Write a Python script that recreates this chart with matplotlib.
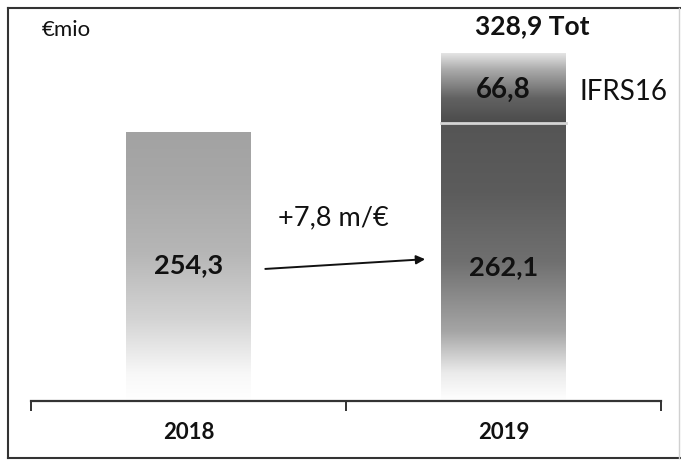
import numpy as np
import matplotlib
matplotlib.use("Agg")
import matplotlib.pyplot as plt
from matplotlib.patches import Rectangle
from matplotlib.lines import Line2D
from matplotlib.colors import LinearSegmentedColormap

# ---- data ----
years = ["2018", "2019"]
base_values = [254.3, 262.1]
ifrs16_values = [0.0, 66.8]
total_2019 = 328.9
delta_label = "+7,8 m/€"
unit_label = "€mio"
ifrs_label = "IFRS16"

plt.rcParams['font.family'] = ['Lato', 'DejaVu Sans']

fig = plt.figure(figsize=(6.81, 4.61), dpi=100)
W, H = 681, 461
ax = fig.add_axes([31 / W, (H - 401) / H, 630 / W, 392 / H])
ax.set_xlim(-0.5, 1.5)
ax.set_ylim(0, 370)
ax.set_facecolor("none")

bar_w = 0.395

def fmt(v):
    return f"{v:.1f}".replace(".", ",")

def grad_bar(x, y0, y1, stops):
    """Vertical gradient bar from y0 to y1; stops: (pos, gray), pos 0=bottom, 1=top."""
    cmap = LinearSegmentedColormap.from_list(
        "g", [(p, (g / 255, g / 255, g / 255)) for p, g in stops])
    grad = np.linspace(0, 1, 256).reshape(-1, 1)
    rect = Rectangle((x - bar_w / 2, y0), bar_w, y1 - y0, facecolor="none",
                     edgecolor="none")
    ax.add_patch(rect)
    im = ax.imshow(grad, extent=(x - bar_w / 2, x + bar_w / 2, y0, y1),
                   origin="lower", cmap=cmap, vmin=0, vmax=1,
                   aspect="auto", interpolation="bilinear", zorder=2)
    im.set_clip_path(rect)

# 2018 bar
grad_bar(0, 0, base_values[0],
         [(0, 255), (0.1, 248), (0.3, 212), (0.55, 182), (0.8, 168), (1, 162)])
# 2019 base
grad_bar(1, 0, base_values[1],
         [(0, 255), (0.1, 235), (0.25, 165), (0.5, 112), (0.75, 92), (1, 85)])
# 2019 IFRS16 segment
grad_bar(1, base_values[1], base_values[1] + ifrs16_values[1],
         [(0, 75), (0.35, 98), (0.75, 170), (1, 232)])
# divider line
ax.plot([1 - bar_w / 2, 1 + bar_w / 2], [base_values[1], base_values[1]],
        color="#d5d5d5", lw=2, zorder=3)

ax.set_xticks([0, 1])
ax.set_xticklabels(years, fontsize=16, fontweight="bold", color="#111111")
ax.set_xticks([-0.5, 0.5, 1.5], minor=True)
ax.tick_params(axis="x", which="major", length=0, pad=15)
ax.tick_params(axis="x", which="minor", length=7, width=1.3, direction="out",
               color="#222222")
ax.set_yticks([])
for s in ["top", "right", "left"]:
    ax.spines[s].set_visible(False)
ax.spines["bottom"].set_linewidth(1.6)
ax.spines["bottom"].set_color("#333333")

# value labels
ax.text(0, 128, fmt(base_values[0]), ha="center", va="center", fontsize=19.5,
        fontweight="bold", color="#111111", zorder=4)
ax.text(1, 126, fmt(base_values[1]), ha="center", va="center", fontsize=19.5,
        fontweight="bold", color="#111111", zorder=4)
ax.text(1, base_values[1] + ifrs16_values[1] / 2 - 2, fmt(ifrs16_values[1]),
        ha="center", va="center", fontsize=20, fontweight="bold",
        color="#111111", zorder=4)
ax.text(1.09, total_2019 + 25, fmt(total_2019) + " Tot", ha="center",
        va="center", fontsize=19, fontweight="bold", color="#111111")
ax.text(1.24, base_values[1] + ifrs16_values[1] / 2 - 4, ifrs_label,
        ha="left", va="center", fontsize=20, color="#111111")
ax.text(0.46, 173, delta_label, ha="center", va="center", fontsize=19.5,
        color="#111111")

ax.annotate("", xy=(0.76, 134), xytext=(0.235, 124.5),
            arrowprops=dict(arrowstyle="-|>", color="#111111", lw=1.4,
                            mutation_scale=13))

fig.text(42 / W, 1 - 30 / H, unit_label, ha="left", va="center", fontsize=16,
         color="#111111")

# outer frame (scanned box)
def fline(x0, y0, x1, y1, color="#333333", lw=1.5):
    fig.add_artist(Line2D([x0 / W, x1 / W], [1 - y0 / H, 1 - y1 / H],
                          transform=fig.transFigure, color=color, lw=lw))

fline(8, 8, 681, 8)
fline(8, 8, 8, 458)
fline(8, 458, 681, 458)
fline(679, 8, 679, 458, color="#d0d0d0", lw=1)

fig.savefig("out.png", dpi=100)
